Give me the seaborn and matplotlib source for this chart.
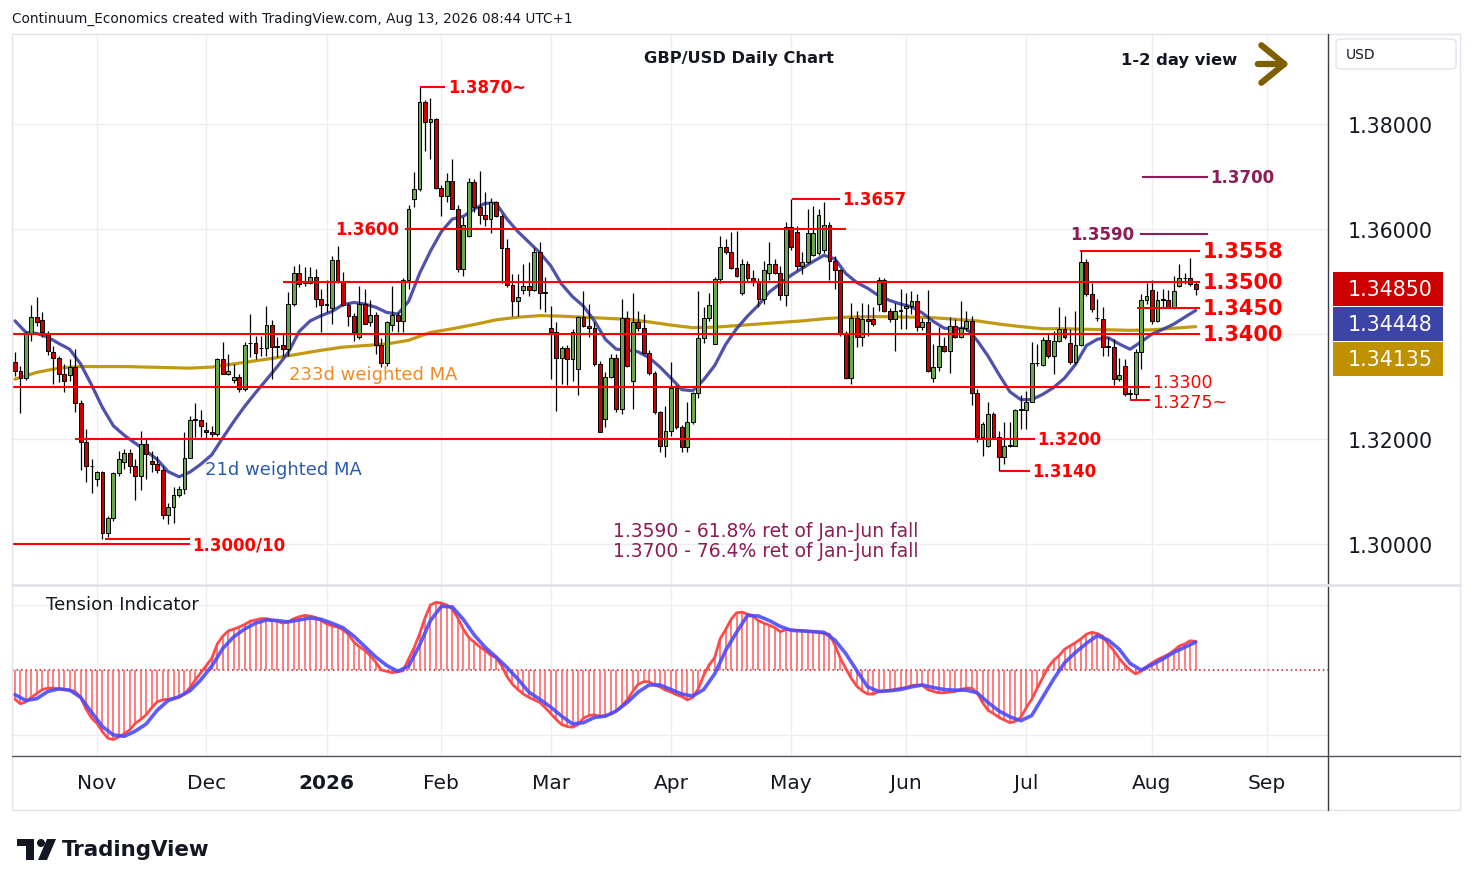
import numpy as np
import pandas as pd
import seaborn as sns
import matplotlib
matplotlib.use("Agg")
import matplotlib.pyplot as plt
import matplotlib.patches as mpatches
from matplotlib.lines import Line2D

# ---------------- data ----------------
first_day = "2025-10-13"
holidays = ["2025-12-25", "2026-01-01"]

opens = [
    1.3347, 1.3330, 1.3317, 1.3400, 1.3432, 1.3427, 1.3400, 1.3366, 1.3354, 1.3324,
    1.3322, 1.3337, 1.3269, 1.3194, 1.3148, 1.3124, 1.3138, 1.3021, 1.3049, 1.3136,
    1.3156, 1.3173, 1.3148, 1.3130, 1.3190, 1.3158, 1.3152, 1.3141, 1.3056, 1.3070,
    1.3094, 1.3105, 1.3164, 1.3237, 1.3237, 1.3218, 1.3214, 1.3210, 1.3352, 1.3324,
    1.3312, 1.3319, 1.3295, 1.3382, 1.3382, 1.3373, 1.3373, 1.3418, 1.3376, 1.3379,
    1.3372, 1.3457, 1.3516, 1.3498, 1.3497, 1.3508, 1.3467, 1.3455, 1.3449, 1.3541,
    1.3500, 1.3455, 1.3434, 1.3394, 1.3457, 1.3422, 1.3437, 1.3379, 1.3345, 1.3417,
    1.3436, 1.3425, 1.3502, 1.3657, 1.3676, 1.3841, 1.3803, 1.3809, 1.3679, 1.3662,
    1.3692, 1.3639, 1.3524, 1.3586, 1.3689, 1.3641, 1.3627, 1.3619, 1.3651, 1.3624,
    1.3563, 1.3493, 1.3463, 1.3484, 1.3491, 1.3484, 1.3557, 1.3479, 1.3411, 1.3403,
    1.3354, 1.3373, 1.3352, 1.3333, 1.3432, 1.3416, 1.3411, 1.3343, 1.3238, 1.3319,
    1.3354, 1.3257, 1.3430, 1.3311, 1.3422, 1.3411, 1.3364, 1.3326, 1.3251, 1.3186,
    1.3216, 1.3298, 1.3222, 1.3184, 1.3232, 1.3288, 1.3392, 1.3430, 1.3381, 1.3505,
    1.3565, 1.3556, 1.3525, 1.3479, 1.3533, 1.3506, 1.3500, 1.3467, 1.3516, 1.3533,
    1.3516, 1.3474, 1.3603, 1.3595, 1.3529, 1.3537, 1.3550, 1.3555, 1.3560, 1.3607,
    1.3539, 1.3522, 1.3402, 1.3317, 1.3430, 1.3394, 1.3429, 1.3429, 1.3457, 1.3503,
    1.3444, 1.3429, 1.3443, 1.3449, 1.3454, 1.3463, 1.3414, 1.3422, 1.3316, 1.3338,
    1.3378, 1.3368, 1.3415, 1.3394, 1.3411, 1.3424, 1.3288, 1.3203, 1.3186, 1.3248,
    1.3203, 1.3165, 1.3187, 1.3187, 1.3256, 1.3256, 1.3271, 1.3344, 1.3341, 1.3388,
    1.3358, 1.3387, 1.3409, 1.3382, 1.3347, 1.3380, 1.3538, 1.3476, 1.3431, 1.3428,
    1.3375, 1.3375, 1.3314, 1.3340, 1.3286, 1.3286, 1.3365, 1.3465, 1.3484, 1.3425,
    1.3465, 1.3465, 1.3451, 1.3491, 1.3506, 1.3506, 1.3495,
]
highs = [
    1.3365, 1.3340, 1.3405, 1.3455, 1.3470, 1.3441, 1.3405, 1.3378, 1.3358, 1.3343,
    1.3352, 1.3371, 1.3275, 1.3219, 1.3162, 1.3140, 1.3140, 1.3054, 1.3138, 1.3178,
    1.3181, 1.3181, 1.3162, 1.3215, 1.3200, 1.3178, 1.3168, 1.3149, 1.3079, 1.3108,
    1.3111, 1.3214, 1.3244, 1.3269, 1.3255, 1.3232, 1.3225, 1.3355, 1.3384, 1.3362,
    1.3343, 1.3324, 1.3384, 1.3438, 1.3397, 1.3397, 1.3454, 1.3426, 1.3394, 1.3400,
    1.3480, 1.3530, 1.3533, 1.3527, 1.3527, 1.3524, 1.3486, 1.3502, 1.3549, 1.3568,
    1.3518, 1.3460, 1.3440, 1.3492, 1.3486, 1.3464, 1.3441, 1.3392, 1.3424, 1.3492,
    1.3441, 1.3506, 1.3646, 1.3708, 1.3870, 1.3846, 1.3849, 1.3812, 1.3683, 1.3706,
    1.3733, 1.3645, 1.3622, 1.3698, 1.3695, 1.3711, 1.3670, 1.3660, 1.3654, 1.3629,
    1.3581, 1.3514, 1.3514, 1.3533, 1.3537, 1.3563, 1.3575, 1.3508, 1.3454, 1.3422,
    1.3378, 1.3380, 1.3410, 1.3435, 1.3482, 1.3457, 1.3422, 1.3349, 1.3327, 1.3362,
    1.3362, 1.3467, 1.3444, 1.3479, 1.3444, 1.3438, 1.3370, 1.3330, 1.3254, 1.3263,
    1.3346, 1.3302, 1.3226, 1.3270, 1.3290, 1.3482, 1.3451, 1.3479, 1.3508, 1.3587,
    1.3581, 1.3594, 1.3597, 1.3543, 1.3540, 1.3521, 1.3506, 1.3540, 1.3575, 1.3543,
    1.3530, 1.3613, 1.3657, 1.3606, 1.3556, 1.3638, 1.3643, 1.3638, 1.3651, 1.3613,
    1.3549, 1.3524, 1.3405, 1.3460, 1.3444, 1.3460, 1.3457, 1.3451, 1.3508, 1.3506,
    1.3450, 1.3460, 1.3486, 1.3479, 1.3482, 1.3476, 1.3430, 1.3483, 1.3381, 1.3413,
    1.3394, 1.3432, 1.3429, 1.3462, 1.3443, 1.3435, 1.3295, 1.3232, 1.3271, 1.3251,
    1.3216, 1.3232, 1.3232, 1.3257, 1.3283, 1.3292, 1.3384, 1.3381, 1.3395, 1.3400,
    1.3406, 1.3451, 1.3435, 1.3410, 1.3444, 1.3559, 1.3543, 1.3498, 1.3467, 1.3451,
    1.3394, 1.3390, 1.3355, 1.3352, 1.3295, 1.3371, 1.3476, 1.3498, 1.3502, 1.3481,
    1.3486, 1.3483, 1.3511, 1.3533, 1.3517, 1.3544, 1.3501,
]
lows = [
    1.3320, 1.3249, 1.3313, 1.3387, 1.3415, 1.3395, 1.3360, 1.3305, 1.3308, 1.3289,
    1.3311, 1.3251, 1.3141, 1.3118, 1.3098, 1.3110, 1.3010, 1.3013, 1.3044, 1.3130,
    1.3143, 1.3136, 1.3084, 1.3102, 1.3124, 1.3137, 1.3135, 1.3048, 1.3038, 1.3040,
    1.3090, 1.3095, 1.3164, 1.3203, 1.3203, 1.3200, 1.3203, 1.3206, 1.3324, 1.3321,
    1.3306, 1.3289, 1.3292, 1.3356, 1.3352, 1.3359, 1.3359, 1.3314, 1.3356, 1.3359,
    1.3359, 1.3454, 1.3489, 1.3492, 1.3495, 1.3451, 1.3403, 1.3441, 1.3419, 1.3498,
    1.3454, 1.3416, 1.3387, 1.3391, 1.3419, 1.3416, 1.3362, 1.3338, 1.3340, 1.3406,
    1.3403, 1.3403, 1.3486, 1.3641, 1.3673, 1.3749, 1.3733, 1.3676, 1.3625, 1.3651,
    1.3638, 1.3519, 1.3510, 1.3584, 1.3632, 1.3610, 1.3606, 1.3592, 1.3622, 1.3498,
    1.3489, 1.3435, 1.3435, 1.3476, 1.3473, 1.3482, 1.3448, 1.3441, 1.3314, 1.3254,
    1.3305, 1.3302, 1.3311, 1.3283, 1.3413, 1.3394, 1.3340, 1.3213, 1.3222, 1.3317,
    1.3251, 1.3248, 1.3337, 1.3257, 1.3406, 1.3362, 1.3321, 1.3248, 1.3175, 1.3165,
    1.3206, 1.3219, 1.3175, 1.3175, 1.3229, 1.3279, 1.3382, 1.3425, 1.3381, 1.3497,
    1.3552, 1.3523, 1.3508, 1.3474, 1.3500, 1.3492, 1.3451, 1.3457, 1.3502, 1.3514,
    1.3464, 1.3454, 1.3560, 1.3521, 1.3514, 1.3536, 1.3549, 1.3550, 1.3555, 1.3502,
    1.3486, 1.3397, 1.3314, 1.3305, 1.3375, 1.3378, 1.3397, 1.3416, 1.3444, 1.3441,
    1.3422, 1.3368, 1.3410, 1.3410, 1.3438, 1.3405, 1.3408, 1.3327, 1.3308, 1.3330,
    1.3365, 1.3326, 1.3392, 1.3392, 1.3406, 1.3264, 1.3194, 1.3168, 1.3184, 1.3201,
    1.3140, 1.3152, 1.3184, 1.3186, 1.3219, 1.3219, 1.3270, 1.3340, 1.3340, 1.3355,
    1.3324, 1.3384, 1.3390, 1.3343, 1.3343, 1.3378, 1.3473, 1.3441, 1.3425, 1.3359,
    1.3359, 1.3302, 1.3311, 1.3282, 1.3275, 1.3275, 1.3333, 1.3457, 1.3419, 1.3422,
    1.3451, 1.3449, 1.3448, 1.3489, 1.3495, 1.3492, 1.3474,
]
closes = [
    1.3330, 1.3317, 1.3400, 1.3432, 1.3422, 1.3403, 1.3368, 1.3354, 1.3324, 1.3310,
    1.3337, 1.3269, 1.3195, 1.3148, 1.3148, 1.3138, 1.3021, 1.3049, 1.3136, 1.3161,
    1.3173, 1.3148, 1.3130, 1.3190, 1.3171, 1.3152, 1.3141, 1.3056, 1.3070, 1.3094,
    1.3105, 1.3164, 1.3237, 1.3237, 1.3224, 1.3214, 1.3209, 1.3352, 1.3324, 1.3329,
    1.3319, 1.3295, 1.3380, 1.3382, 1.3364, 1.3373, 1.3418, 1.3375, 1.3378, 1.3372,
    1.3457, 1.3516, 1.3495, 1.3497, 1.3508, 1.3467, 1.3455, 1.3455, 1.3541, 1.3500,
    1.3455, 1.3434, 1.3403, 1.3457, 1.3419, 1.3437, 1.3379, 1.3345, 1.3422, 1.3436,
    1.3425, 1.3502, 1.3638, 1.3676, 1.3841, 1.3803, 1.3809, 1.3679, 1.3662, 1.3692,
    1.3639, 1.3524, 1.3608, 1.3689, 1.3641, 1.3627, 1.3619, 1.3651, 1.3624, 1.3563,
    1.3493, 1.3463, 1.3470, 1.3491, 1.3484, 1.3557, 1.3479, 1.3479, 1.3403, 1.3354,
    1.3373, 1.3352, 1.3403, 1.3432, 1.3416, 1.3411, 1.3343, 1.3213, 1.3319, 1.3354,
    1.3257, 1.3430, 1.3339, 1.3422, 1.3411, 1.3364, 1.3326, 1.3251, 1.3186, 1.3216,
    1.3298, 1.3222, 1.3184, 1.3232, 1.3288, 1.3392, 1.3430, 1.3455, 1.3505, 1.3565,
    1.3556, 1.3525, 1.3510, 1.3533, 1.3506, 1.3500, 1.3467, 1.3522, 1.3533, 1.3516,
    1.3474, 1.3603, 1.3565, 1.3529, 1.3537, 1.3592, 1.3592, 1.3627, 1.3607, 1.3539,
    1.3522, 1.3402, 1.3317, 1.3430, 1.3394, 1.3429, 1.3425, 1.3419, 1.3503, 1.3444,
    1.3429, 1.3443, 1.3446, 1.3454, 1.3463, 1.3414, 1.3422, 1.3330, 1.3338, 1.3378,
    1.3368, 1.3415, 1.3394, 1.3411, 1.3424, 1.3288, 1.3203, 1.3228, 1.3248, 1.3203,
    1.3165, 1.3187, 1.3187, 1.3256, 1.3256, 1.3271, 1.3344, 1.3344, 1.3388, 1.3358,
    1.3387, 1.3409, 1.3395, 1.3347, 1.3380, 1.3538, 1.3476, 1.3448, 1.3430, 1.3375,
    1.3375, 1.3314, 1.3322, 1.3286, 1.3286, 1.3365, 1.3465, 1.3473, 1.3425, 1.3465,
    1.3467, 1.3451, 1.3482, 1.3506, 1.3506, 1.3495, 1.3485,
]

# tension indicator histogram, one value per bar
tension = [
    -0.45, -0.52, -0.49, -0.42, -0.36, -0.30, -0.28, -0.28, -0.29, -0.30,
    -0.31, -0.33, -0.42, -0.60, -0.74, -0.82, -0.95, -1.05, -1.07, -1.03,
    -0.98, -0.92, -0.82, -0.76, -0.69, -0.58, -0.49, -0.46, -0.45, -0.44,
    -0.42, -0.37, -0.27, -0.15, -0.04, 0.07, 0.18, 0.40, 0.52, 0.60,
    0.63, 0.66, 0.70, 0.75, 0.77, 0.79, 0.79, 0.77, 0.75, 0.72,
    0.74, 0.79, 0.82, 0.84, 0.83, 0.81, 0.76, 0.71, 0.68, 0.66,
    0.62, 0.55, 0.43, 0.36, 0.30, 0.22, 0.12, 0.00, -0.02, -0.04,
    -0.03, -0.01, 0.17, 0.34, 0.55, 0.80, 1.00, 1.04, 1.03, 1.00,
    0.94, 0.80, 0.63, 0.50, 0.43, 0.36, 0.30, 0.23, 0.19, 0.07,
    -0.10, -0.22, -0.30, -0.37, -0.42, -0.46, -0.50, -0.58, -0.67, -0.76,
    -0.84, -0.87, -0.88, -0.84, -0.74, -0.70, -0.69, -0.71, -0.70, -0.68,
    -0.63, -0.55, -0.46, -0.33, -0.22, -0.18, -0.18, -0.23, -0.26, -0.31,
    -0.34, -0.38, -0.41, -0.46, -0.42, -0.29, -0.08, 0.08, 0.19, 0.48,
    0.62, 0.78, 0.88, 0.89, 0.86, 0.83, 0.76, 0.72, 0.69, 0.65,
    0.59, 0.62, 0.62, 0.61, 0.61, 0.60, 0.59, 0.58, 0.56, 0.55,
    0.38, 0.18, 0.02, -0.13, -0.25, -0.32, -0.37, -0.37, -0.33, -0.32,
    -0.31, -0.30, -0.28, -0.27, -0.24, -0.23, -0.24, -0.30, -0.33, -0.35,
    -0.35, -0.34, -0.33, -0.30, -0.28, -0.28, -0.35, -0.50, -0.62, -0.67,
    -0.73, -0.77, -0.81, -0.79, -0.73, -0.58, -0.45, -0.28, -0.12, 0.04,
    0.15, 0.22, 0.32, 0.37, 0.42, 0.48, 0.55, 0.58, 0.56, 0.52,
    0.40, 0.30, 0.18, 0.08, 0.00, -0.06, -0.02, 0.05, 0.11, 0.16,
    0.20, 0.24, 0.30, 0.37, 0.40, 0.45, 0.44,
]

# smooth lines, read every 2nd bar
fine_step = 2
tension_signal = [
    -0.38, -0.47, -0.44, -0.33, -0.29, -0.31, -0.42, -0.65, -0.87, -1.00,
    -1.02, -0.94, -0.83, -0.62, -0.47, -0.41, -0.32, -0.15, 0.06, 0.33,
    0.51, 0.63, 0.72, 0.77, 0.76, 0.74, 0.77, 0.80, 0.78, 0.72,
    0.65, 0.52, 0.36, 0.20, 0.07, -0.02, 0.06, 0.38, 0.76, 0.98,
    0.97, 0.78, 0.54, 0.35, 0.20, 0.04, -0.14, -0.34, -0.45, -0.57,
    -0.71, -0.83, -0.81, -0.73, -0.71, -0.63, -0.50, -0.34, -0.23, -0.23,
    -0.30, -0.37, -0.40, -0.30, -0.06, 0.30, 0.58, 0.84, 0.83, 0.76,
    0.67, 0.61, 0.60, 0.59, 0.58, 0.46, 0.25, -0.01, -0.26, -0.33,
    -0.32, -0.30, -0.26, -0.23, -0.27, -0.30, -0.31, -0.31, -0.35, -0.50,
    -0.63, -0.72, -0.78, -0.70, -0.42, -0.14, 0.11, 0.27, 0.41, 0.53,
    0.46, 0.32, 0.10, 0.00, 0.08, 0.17, 0.27, 0.35, 0.43,
]
wma21 = [
    1.3425, 1.3403, 1.3401, 1.3394, 1.3382, 1.3371, 1.3343, 1.3303, 1.3260, 1.3225,
    1.3207, 1.3192, 1.3177, 1.3161, 1.3138, 1.3128, 1.3137, 1.3152, 1.3170, 1.3202,
    1.3233, 1.3262, 1.3288, 1.3313, 1.3338, 1.3365, 1.3405, 1.3425, 1.3435, 1.3443,
    1.3456, 1.3460, 1.3457, 1.3451, 1.3441, 1.3438, 1.3462, 1.3515, 1.3558, 1.3595,
    1.3619, 1.3624, 1.3638, 1.3649, 1.3649, 1.3619, 1.3595, 1.3575, 1.3555, 1.3530,
    1.3495, 1.3471, 1.3453, 1.3425, 1.3390, 1.3371, 1.3370, 1.3366, 1.3355, 1.3337,
    1.3316, 1.3294, 1.3292, 1.3313, 1.3340, 1.3380, 1.3410, 1.3434, 1.3455, 1.3480,
    1.3496, 1.3512, 1.3525, 1.3538, 1.3550, 1.3543, 1.3515, 1.3498, 1.3487, 1.3473,
    1.3464, 1.3457, 1.3452, 1.3440, 1.3424, 1.3411, 1.3410, 1.3411, 1.3388, 1.3358,
    1.3323, 1.3290, 1.3275, 1.3275, 1.3285, 1.3298, 1.3316, 1.3342, 1.3378, 1.3390,
    1.3393, 1.3381, 1.3371, 1.3385, 1.3400, 1.3409, 1.3419, 1.3432, 1.3445,
]

# slow average, read every 4th bar
coarse_step = 4
wma233 = [
    1.3314, 1.3327, 1.3335, 1.3338, 1.3338, 1.3338, 1.3337, 1.3336, 1.3335, 1.3337,
    1.3343, 1.3349, 1.3355, 1.3362, 1.3369, 1.3375, 1.3378, 1.3381, 1.3388, 1.3403,
    1.3410, 1.3418, 1.3427, 1.3432, 1.3435, 1.3434, 1.3432, 1.3430, 1.3428, 1.3423,
    1.3417, 1.3412, 1.3413, 1.3416, 1.3419, 1.3422, 1.3425, 1.3429, 1.3432, 1.3433,
    1.3433, 1.3432, 1.3431, 1.3428, 1.3425, 1.3419, 1.3414, 1.3410, 1.3410, 1.3409,
    1.3408, 1.3407, 1.3408, 1.3411, 1.3414,
]

last_price = 1.34850
last_wma21 = 1.34448
last_wma233 = 1.34135

level_values = [1.3870, 1.3657, 1.3600, 1.3590, 1.3700, 1.3558, 1.3500, 1.3450,
                1.3400, 1.3300, 1.3275, 1.3200, 1.3140, 1.3010, 1.3000]
level_labels = ["1.3870~", "1.3657", "1.3600", "1.3590", "1.3700", "1.3558", "1.3500",
                "1.3450", "1.3400", "1.3300", "1.3275~", "1.3200", "1.3140", "", "1.3000/10"]
notes = ["1.3590 - 61.8% ret of Jan-Jun fall", "1.3700 - 76.4% ret of Jan-Jun fall"]

# ---------------- layout ----------------
# (first bar, last bar, side of label, style, label nudge in px) for each level line
level_layout = [
    (74.0, 78.7, "right", "small", 0),
    (142.1, 150.9, "right", "small", 0),
    (71.3, 152.0, "left", "small", 0),
    (205.8, 218.2, "left", "maroon", 0),
    (206.1, 218.2, "right", "maroon", 0),
    (194.8, 216.8, "right", "big", 0),
    (49.0, 216.8, "right", "big", 0),
    (205.2, 216.8, "right", "big", 0),
    (-1.0, 216.8, "right", "big", 0),
    (-1.0, 207.6, "right", "plain", 4.5),
    (204.0, 207.6, "right", "plain", -2.5),
    (11.0, 186.6, "right", "small", 0),
    (180.2, 185.7, "right", "small", 0),
    (16.5, 32.0, "right", "small", 0),
    (-1.0, 32.0, "right", "small", 0),
]

RED = "#ff0000"
MAROON = "#8e1c56"
INK = "#131722"
styles = {
    "big": dict(color=RED, size=15, weight="bold"),
    "small": dict(color=RED, size=12, weight="bold"),
    "plain": dict(color=RED, size=12.5, weight="normal"),
    "maroon": dict(color=MAROON, size=12, weight="bold"),
}

sns.set_theme(style="white")
plt.rcParams["font.family"] = ["DejaVu Sans"]

W, H = 1474, 887
fig = plt.figure(figsize=(W / 100, H / 100), dpi=100)
fig.patch.set_facecolor("white")


def fx(px):
    return px / W


def fy(py):
    return 1 - py / H


ax = fig.add_axes([fx(12), fy(585), (1328 - 12) / W, (585 - 35) / H])
axt = fig.add_axes([fx(12), fy(757), (1328 - 12) / W, (757 - 586) / H], sharex=ax)

days = pd.bdate_range(first_day, "2026-09-30")
days = days[~days.isin(pd.to_datetime(holidays))]
n = len(closes)
df = pd.DataFrame({"date": days[:n], "open": opens, "high": highs, "low": lows,
                   "close": closes, "tension": tension})
df["bar"] = np.arange(n)

cal = pd.DataFrame({"date": days, "bar": np.arange(len(days))})
firsts = cal.groupby(cal["date"].dt.to_period("M"))["bar"].first()
firsts = firsts[firsts.index >= pd.Period("2025-11", "M")]
month_labels = ["2026" if p.month == 1 else p.strftime("%b") for p in firsts.index]

# ---------------- price panel ----------------
up = df["close"] >= df["open"]
body_col = np.where(up, "#6aa84f", "#cc0000")
ax.vlines(df["bar"], df["low"], df["high"], color="black", lw=0.9, zorder=3)
body = (df["close"] - df["open"]).abs().clip(lower=0.00012)
ax.bar(df["bar"], body, bottom=np.minimum(df["open"], df["close"]), width=0.7,
       color=body_col, edgecolor="black", linewidth=0.7, zorder=4)

slow = pd.DataFrame({"bar": df["bar"].values[::coarse_step], "wma233": wma233})
fast = pd.DataFrame({"bar": df["bar"].values[::fine_step], "wma21": wma21})
sns.lineplot(data=slow, x="bar", y="wma233", ax=ax, color="#c29a12", linewidth=2.3, zorder=2)
sns.lineplot(data=fast, x="bar", y="wma21", ax=ax, color="#3b3fa3", linewidth=2.3, zorder=2, alpha=0.9)

for val, lab, (x0, x1, side, st, dy) in zip(level_values, level_labels, level_layout):
    s = styles[st]
    ax.hlines(val, x0, x1, color=s["color"], lw=1.5, zorder=5)
    if not lab:
        continue
    if side == "right":
        xa, ha, dx = x1, "left", 2.5
    else:
        xa, ha, dx = x0, "right", -6
    ax.annotate(lab, (xa, val), xytext=(dx * 0.72, dy * 0.72), textcoords="offset points",
                ha=ha, va="center", color=s["color"], fontsize=s["size"],
                fontweight=s["weight"], zorder=6, annotation_clip=False)

ax.text(50.1, 1.33238, "233d weighted MA", color="#f08a24", fontsize=13, va="center", zorder=6)
ax.text(34.75, 1.31429, "21d weighted MA", color="#2c5cb0", fontsize=13, va="center", zorder=6)
ax.text(137.4, 1.30248, notes[0], color=MAROON, fontsize=13.5, ha="center", va="center")
ax.text(137.4, 1.29867, notes[1], color=MAROON, fontsize=13.5, ha="center", va="center")

ax.set_xlim(-0.55, 240.2)
ax.set_ylim(1.292381, 1.397143)
ax.yaxis.tick_right()
ax.set_yticks([1.30, 1.32, 1.34, 1.36, 1.38])
ax.set_yticklabels(["1.30000", "1.32000", "", "1.36000", "1.38000"])
ax.set_xticks(firsts.values)
ax.tick_params(axis="y", length=0, pad=14.4, labelsize=14.8, labelcolor=INK)
ax.tick_params(axis="x", length=0, labelbottom=False)
ax.grid(True, color="#ebeff4", lw=1)
ax.set_axisbelow(True)
ax.set_xlabel("")
ax.set_ylabel("")
for sp in ax.spines.values():
    sp.set_visible(False)

# ---------------- tension panel ----------------
axt.vlines(df["bar"], 0, df["tension"], color="#ff5a5a", lw=1.1, zorder=2)
sns.lineplot(data=df, x="bar", y="tension", ax=axt, color="#ff4a4a", linewidth=2.0, zorder=3)
sig = pd.DataFrame({"bar": df["bar"].values[::fine_step], "signal": tension_signal})
sns.lineplot(data=sig, x="bar", y="signal", ax=axt, color="#4b4bff", linewidth=2.6, zorder=4, alpha=0.9)
axt.axhline(0, color="#d01010", lw=1.1, ls=(0, (1, 2)), zorder=1)
axt.text(0.0258, 0.889, "Tension Indicator", transform=axt.transAxes, fontsize=13,
         va="center", color=INK)

axt.set_ylim(-1.3231, 1.3077)
axt.set_yticks([-1, 1])
axt.set_xticks(firsts.values)
axt.set_xticklabels(month_labels)
axt.tick_params(axis="x", length=0, pad=12, labelsize=14.5, labelcolor=INK)
axt.tick_params(axis="y", length=0, labelleft=False, labelright=False)
for t in axt.get_xticklabels():
    if t.get_text() == "2026":
        t.set_fontweight("bold")
axt.grid(True, color="#ebeff4", lw=1)
axt.set_axisbelow(True)
axt.set_xlabel("")
axt.set_ylabel("")
for sp in axt.spines.values():
    sp.set_visible(False)
ax.set_xlim(-0.55, 240.2)

# ---------------- frame, header, price tags ----------------
fig.add_artist(mpatches.Rectangle((fx(12), fy(811)), (1460 - 12) / W, (811 - 35) / H,
                                  transform=fig.transFigure, fill=False, ec="#e0e3eb", lw=1))
fig.add_artist(Line2D([fx(1328), fx(1328)], [fy(35), fy(811)], transform=fig.transFigure,
                      color="#3a3d46", lw=1))
fig.add_artist(Line2D([fx(12), fx(1460)], [fy(585.5), fy(585.5)], transform=fig.transFigure,
                      color="#e0e3eb", lw=2))
fig.add_artist(Line2D([fx(12), fx(1460)], [fy(757), fy(757)], transform=fig.transFigure,
                      color="#50535e", lw=1))

fig.text(fx(12), fy(19), "Continuum_Economics created with TradingView.com, Aug 13, 2026 08:44 UTC+1",
         fontsize=9.8, va="center", color=INK)
fig.text(fx(739), fy(58), "GBP/USD Daily Chart", ha="center", va="center", fontsize=11.7,
         fontweight="bold", color=INK)
fig.text(fx(1121), fy(60), "1-2 day view", ha="left", va="center", fontsize=11.8,
         fontweight="bold", color=INK)
fig.add_artist(mpatches.FancyArrowPatch((fx(1255), fy(65)), (fx(1292), fy(65)),
                                        transform=fig.transFigure,
                                        arrowstyle="->,head_length=0.55,head_width=0.45",
                                        mutation_scale=30, lw=4.5, color="#7f6000"))

fig.add_artist(mpatches.FancyBboxPatch((fx(1336), fy(70)), (1456 - 1336) / W, 30 / H,
                                       boxstyle="round,pad=0,rounding_size=0.004",
                                       transform=fig.transFigure, fc="white", ec="#e0e3eb", lw=1))
fig.text(fx(1346), fy(55), "USD", fontsize=10, va="center", color=INK)

y_tag = ax.transData.transform((0, last_price))[1]
for k, (val, colr) in enumerate([(last_price, "#cc0000"), (last_wma21, "#3c44a8"),
                                 (last_wma233, "#bf9000")]):
    yc = y_tag - k * 35
    fig.add_artist(mpatches.Rectangle((fx(1333), (yc - 17) / H), 110 / W, 34 / H,
                                      transform=fig.transFigure, fc=colr, ec="none"))
    fig.text(fx(1390), yc / H, f"{val:.5f}", color="white", fontsize=14.8,
             ha="center", va="center")

# TradingView mark
logo = "#131722"
fig.add_artist(mpatches.Polygon([(fx(17), fy(840)), (fx(34), fy(840)), (fx(34), fy(861)),
                                 (fx(26), fy(861)), (fx(26), fy(847)), (fx(17), fy(847))],
                                closed=True, transform=fig.transFigure, fc=logo, ec="none"))
fig.add_artist(mpatches.Ellipse((fx(41), fy(844)), 8 / W, 8 / H, transform=fig.transFigure,
                                fc=logo, ec="none"))
fig.add_artist(mpatches.Polygon([(fx(47), fy(840)), (fx(56), fy(840)), (fx(47), fy(861)),
                                 (fx(38), fy(861))], closed=True, transform=fig.transFigure,
                                fc=logo, ec="none"))
fig.text(fx(62), fy(850), "TradingView", fontsize=15.4, fontweight="bold", va="center", color=logo)

fig.savefig("out.png", dpi=100, facecolor="white")
